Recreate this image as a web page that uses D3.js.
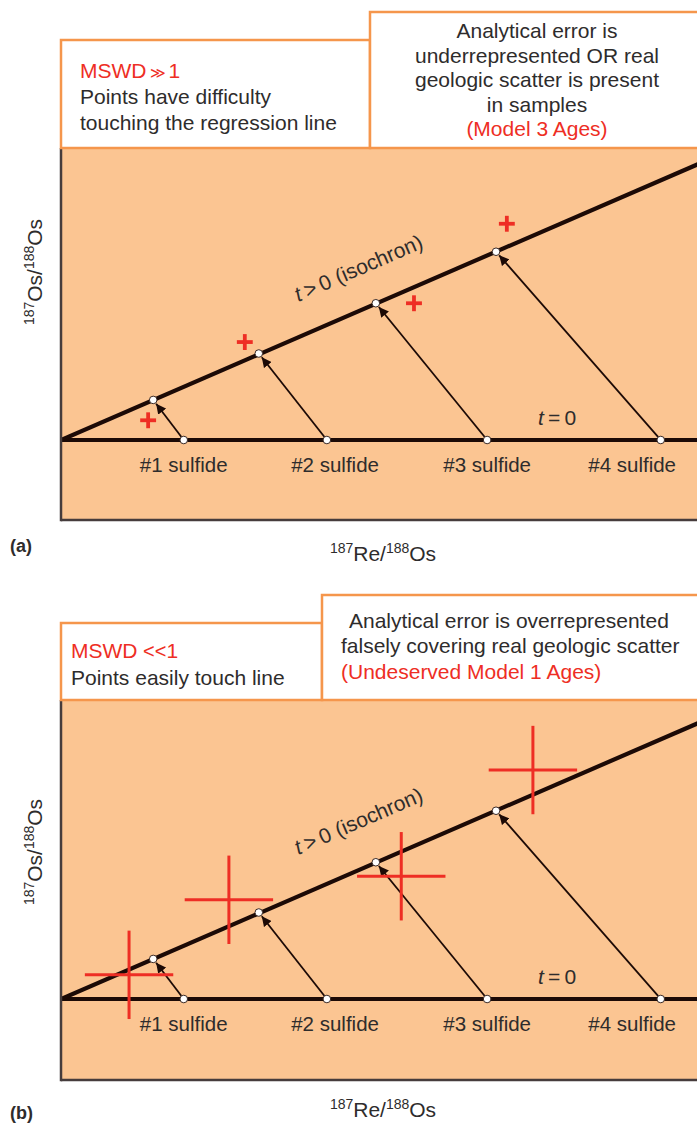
<!DOCTYPE html>
<html>
<head>
<meta charset="utf-8">
<script src="https://cdn.jsdelivr.net/npm/d3@7/dist/d3.min.js"></script>
<style>
  html, body { margin: 0; padding: 0; background: #fff; }
  svg { display: block; font-family: "Liberation Sans", Arial, Helvetica, sans-serif; }
</style>
</head>
<body>
<svg id="chart" width="697" height="1126"></svg>
<script>
// ---- data (Re/Os evolution of four sulfides) ----
const sulfideLabels = ["#1 sulfide", "#2 sulfide", "#3 sulfide", "#4 sulfide"];
const labelRe      = [19.3, 43.1, 67.0, 89.8];   // label anchor along 187Re/188Os
const initialRe    = [19.3, 41.8, 67.0, 94.3];   // t = 0 compositions (on the flat line)
const isochronRe   = [14.5, 31.1, 49.5, 68.4];   // t > 0 compositions
const isochronOs   = [6.3, 13.6, 21.5, 29.6];
const isochronSlope = 0.433;
const lineExtentRe = 105;

// measured analyses with their error bars
const measuredReA = [13.7, 28.9, 55.5, 70.1];
const measuredOsA = [3.1, 15.4, 21.5, 34.0];
const errorA = 1.25;
const measuredReB = [10.7, 26.4, 53.5, 74.2];
const measuredOsB = [3.8, 15.6, 19.3, 36.0];
const errorB = 6.95;

// text blocks
const panelA = {
  tag: "(a)",
  mswd: ["MSWD", "\u2009\u226B\u2009", "1"],
  leftLines: ["Points have difficulty", "touching the regression line"],
  rightLines: ["Analytical error is", "underrepresented OR real", "geologic scatter is present", "in samples"],
  rightRed: "(Model 3 Ages)"
};
const panelB = {
  tag: "(b)",
  mswd: ["MSWD", " <<", "1"],
  leftLines: ["Points easily touch line"],
  rightLines: ["Analytical error is overrepresented", "falsely covering real geologic scatter"],
  rightRed: "(Undeserved Model 1 Ages)"
};

// ---- styling ----
const FILL = "#FBC592";
const ORANGE = "#F5964C";
const RED = "#EE2E24";
const INK = "#2e2c2c";
const LINE = "#1c0a06";
const FRAME = "#463c3c";
const W = 697;
const PX_PER_UNIT = 6.36;
const FS = 21;

const svg = d3.select("#chart");

const defs = svg.append("defs");
defs.append("marker")
  .attr("id", "arrowhead")
  .attr("viewBox", "0 0 10 10")
  .attr("refX", 10).attr("refY", 5)
  .attr("markerWidth", 5.5).attr("markerHeight", 5.5)
  .attr("markerUnits", "strokeWidth")
  .attr("orient", "auto")
  .append("path")
  .attr("d", "M0,0 L10,5 L0,10 z")
  .attr("fill", LINE);

function drawPanel(cfg) {
  const g = svg.append("g");
  const x = d3.scaleLinear().domain([0, 100]).range([61, 697]);
  const y = d3.scaleLinear().domain([0, 10]).range([cfg.baseline, cfg.baseline - 10 * PX_PER_UNIT]);

  const clipId = "clip-" + cfg.id;
  defs.append("clipPath").attr("id", clipId)
    .append("rect").attr("x", x(0)).attr("y", cfg.plotTop)
    .attr("width", W - x(0)).attr("height", cfg.plotBottom - cfg.plotTop);

  // plot background
  g.append("rect")
    .attr("x", x(0)).attr("y", cfg.plotTop)
    .attr("width", W - x(0) + 5).attr("height", cfg.plotBottom - cfg.plotTop)
    .attr("fill", FILL);

  const plot = g.append("g").attr("clip-path", `url(#${clipId})`);

  // t = 0 line and isochron
  plot.append("line")
    .attr("x1", x(0)).attr("y1", y(0))
    .attr("x2", x(lineExtentRe)).attr("y2", y(0))
    .attr("stroke", LINE).attr("stroke-width", 4);
  plot.append("line")
    .attr("x1", x(0)).attr("y1", y(0))
    .attr("x2", x(lineExtentRe)).attr("y2", y(lineExtentRe * isochronSlope))
    .attr("stroke", LINE).attr("stroke-width", 4.2);

  // arrows from t = 0 to t > 0
  const r = 3.8;
  initialRe.forEach((re0, i) => {
    const x0 = x(re0), y0 = y(0);
    const x1 = x(isochronRe[i]), y1 = y(isochronOs[i]);
    const len = Math.hypot(x1 - x0, y1 - y0);
    const ux = (x1 - x0) / len, uy = (y1 - y0) / len;
    plot.append("line")
      .attr("x1", x0 + ux * r).attr("y1", y0 + uy * r)
      .attr("x2", x1 - ux * (r + 1)).attr("y2", y1 - uy * (r + 1))
      .attr("stroke", LINE).attr("stroke-width", 1.8)
      .attr("marker-end", "url(#arrowhead)");
  });

  // sample points
  const pts = initialRe.map(re => [re, 0]).concat(isochronRe.map((re, i) => [re, isochronOs[i]]));
  plot.selectAll("circle.pt").data(pts).join("circle")
    .attr("class", "pt")
    .attr("cx", d => x(d[0])).attr("cy", d => y(d[1]))
    .attr("r", r).attr("fill", "#fff").attr("stroke", "#3a2a26").attr("stroke-width", 1);

  // measured analyses with errors
  cfg.measRe.forEach((re, i) => {
    const os = cfg.measOs[i];
    plot.append("line")
      .attr("x1", x(re - cfg.err)).attr("x2", x(re + cfg.err))
      .attr("y1", y(os)).attr("y2", y(os))
      .attr("stroke", RED).attr("stroke-width", cfg.errWidth);
    plot.append("line")
      .attr("x1", x(re)).attr("x2", x(re))
      .attr("y1", y(os - cfg.err)).attr("y2", y(os + cfg.err))
      .attr("stroke", RED).attr("stroke-width", cfg.errWidth);
  });

  // sulfide labels
  plot.selectAll("text.sulf").data(sulfideLabels).join("text")
    .attr("class", "sulf")
    .attr("x", (d, i) => x(labelRe[i]))
    .attr("y", y(0) + 32)
    .attr("text-anchor", "middle")
    .attr("font-size", 20.5).attr("fill", INK)
    .text(d => d);

  // t = 0 label
  const t0 = plot.append("text")
    .attr("x", 538).attr("y", y(0) - 15)
    .attr("font-size", FS).attr("fill", INK);
  t0.append("tspan").attr("font-style", "italic").text("t");
  t0.append("tspan").text("\u2009=\u20090");

  // isochron label, rotated along the line
  const ang = Math.atan2(y(10 * isochronSlope) - y(0), x(10) - x(0)) * 180 / Math.PI;
  const tl = plot.append("text")
    .attr("transform", `translate(${x(37.3)},${y(0) - cfg.isoLabelDy}) rotate(${ang})`)
    .attr("font-size", FS).attr("fill", INK);
  tl.append("tspan").attr("font-style", "italic").text("t");
  tl.append("tspan").text("\u2009>\u20090 (isochron)");

  // frame: left and bottom edges
  g.append("line")
    .attr("x1", x(0)).attr("x2", x(0))
    .attr("y1", cfg.plotTop).attr("y2", cfg.plotBottom + 1.25)
    .attr("stroke", FRAME).attr("stroke-width", 2.5);
  g.append("line")
    .attr("x1", x(0)).attr("x2", W + 2)
    .attr("y1", cfg.plotBottom).attr("y2", cfg.plotBottom)
    .attr("stroke", FRAME).attr("stroke-width", 2.5);

  // annotation boxes
  g.append("rect")
    .attr("x", x(0)).attr("y", cfg.leftBoxTop)
    .attr("width", cfg.split - x(0)).attr("height", cfg.plotTop - cfg.leftBoxTop)
    .attr("fill", "#fff").attr("stroke", ORANGE).attr("stroke-width", 2.5);
  g.append("rect")
    .attr("x", cfg.split).attr("y", cfg.rightBoxTop)
    .attr("width", W - cfg.split + 10).attr("height", cfg.plotTop - cfg.rightBoxTop)
    .attr("fill", "#fff").attr("stroke", ORANGE).attr("stroke-width", 2.5);

  // left box text
  const m = g.append("text")
    .attr("x", cfg.leftTextX).attr("y", cfg.leftBaselines[0])
    .attr("font-size", FS).attr("fill", RED);
  m.append("tspan").text(cfg.text.mswd[0]);
  m.append("tspan").attr("font-size", cfg.relSize).text(cfg.text.mswd[1]);
  m.append("tspan").text(cfg.text.mswd[2]);
  cfg.text.leftLines.forEach((s, i) => {
    g.append("text")
      .attr("x", cfg.leftTextX).attr("y", cfg.leftBaselines[i + 1])
      .attr("font-size", FS).attr("fill", INK).text(s);
  });

  // right box text
  const rLines = cfg.text.rightLines.concat([cfg.text.rightRed]);
  rLines.forEach((s, i) => {
    g.append("text")
      .attr("x", cfg.rightTextX[i]).attr("y", cfg.rightBaselines[i])
      .attr("text-anchor", cfg.rightAnchor)
      .attr("font-size", FS)
      .attr("fill", i === rLines.length - 1 ? RED : INK)
      .text(s);
  });

  // axis titles
  const xt = g.append("text")
    .attr("x", 383).attr("y", cfg.xTitleY)
    .attr("text-anchor", "middle").attr("font-size", FS).attr("fill", INK);
  xt.append("tspan").attr("font-size", 14).attr("dy", -8).text("187");
  xt.append("tspan").attr("dy", 8).text("Re/");
  xt.append("tspan").attr("font-size", 14).attr("dy", -8).text("188");
  xt.append("tspan").attr("dy", 8).text("Os");

  const yt = g.append("text")
    .attr("transform", `translate(42,${cfg.yTitleY}) rotate(-90)`)
    .attr("text-anchor", "middle").attr("font-size", FS).attr("fill", INK);
  yt.append("tspan").attr("font-size", 14).attr("dy", -8).text("187");
  yt.append("tspan").attr("dy", 8).text("Os/");
  yt.append("tspan").attr("font-size", 14).attr("dy", -8).text("188");
  yt.append("tspan").attr("dy", 8).text("Os");

  // panel tag
  g.append("text")
    .attr("x", 10).attr("y", cfg.tagY)
    .attr("font-size", 18).attr("font-weight", "bold").attr("fill", INK)
    .text(cfg.text.tag);
}

drawPanel({
  id: "a", text: panelA,
  plotTop: 148, plotBottom: 520, baseline: 440,
  leftBoxTop: 40, rightBoxTop: 12, split: 370,
  leftTextX: 80, leftBaselines: [78, 104, 130], relSize: 15,
  rightTextX: [537, 537, 537, 537, 537], rightAnchor: "middle",
  rightBaselines: [38, 63, 87, 112, 136],
  measRe: measuredReA, measOs: measuredOsA, err: errorA, errWidth: 3.8,
  isoLabelDy: 138,
  xTitleY: 561, yTitleY: 272, tagY: 552
});

drawPanel({
  id: "b", text: panelB,
  plotTop: 700, plotBottom: 1080, baseline: 999,
  leftBoxTop: 623, rightBoxTop: 595, split: 322,
  leftTextX: 71, leftBaselines: [658, 685], relSize: 20,
  rightTextX: [349, 341, 341], rightAnchor: "start",
  rightBaselines: [628, 653, 679],
  measRe: measuredReB, measOs: measuredOsB, err: errorB, errWidth: 3,
  isoLabelDy: 144,
  xTitleY: 1117, yTitleY: 852, tagY: 1119
});
</script>
</body>
</html>
